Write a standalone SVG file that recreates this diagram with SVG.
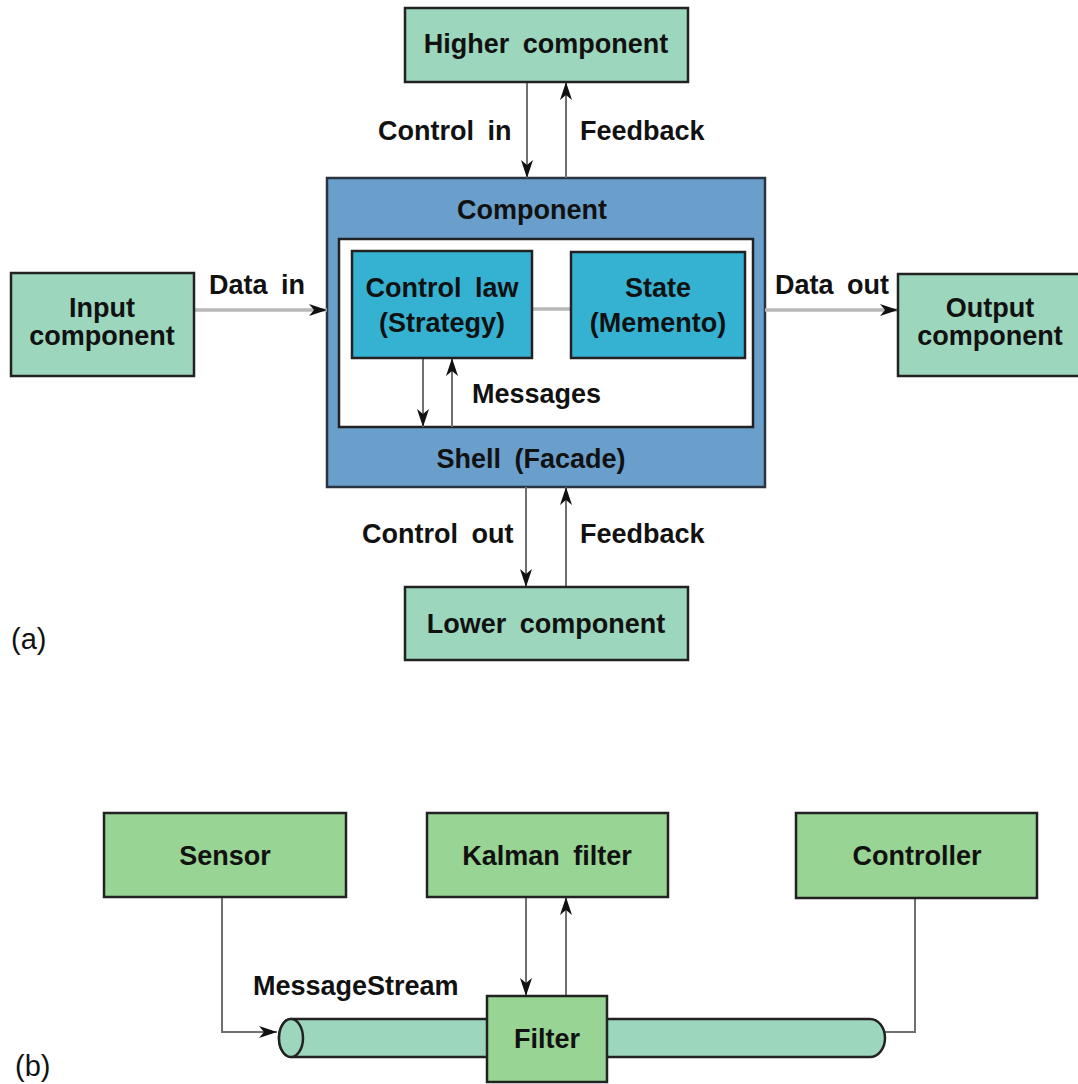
<svg xmlns="http://www.w3.org/2000/svg" width="1078" height="1084" viewBox="0 0 1078 1084">
<style>
.t{font-family:"Liberation Sans",Arial,sans-serif;font-weight:bold;font-size:27px;fill:#111;word-spacing:6px}
.c{text-anchor:middle}
.lbl{font-family:"Liberation Sans",Arial,sans-serif;font-size:29px;fill:#111}
.teal{fill:#9cd6bc;stroke:#222;stroke-width:2.5}
.green{fill:#98d493;stroke:#222;stroke-width:2.5}
.cyan{fill:#35b2d1;stroke:#222;stroke-width:2.5}
.conn{fill:none;stroke:#707070;stroke-width:2}
.data{fill:none;stroke:#b8b8b8;stroke-width:3.5}
</style>
<defs>
<marker id="ah" viewBox="0 0 18 12" refX="18" refY="6" markerWidth="18" markerHeight="12" markerUnits="userSpaceOnUse" orient="auto">
<path d="M0,0 L18,6 L0,12 L5,6 Z" fill="#111"/>
</marker>
</defs>
<rect width="1078" height="1084" fill="#fff"/>

<g id="component">
<rect x="327" y="178" width="438" height="309" fill="#6a9fcb" stroke="#2a3340" stroke-width="2.5"/>
<text class="t c" x="532" y="219">Component</text>
<text class="t c" x="531" y="468">Shell (Facade)</text>
</g>
<g id="shell-inner">
<rect x="339" y="239" width="414" height="188" fill="#fff" stroke="#222" stroke-width="2.5"/>
</g>

<g id="connectors">
<line class="conn" x1="527" y1="82" x2="527" y2="178" marker-end="url(#ah)"/>
<line class="conn" x1="566" y1="178" x2="566" y2="82" marker-end="url(#ah)"/>
<line class="conn" x1="526" y1="487" x2="526" y2="587" marker-end="url(#ah)"/>
<line class="conn" x1="566" y1="587" x2="566" y2="487" marker-end="url(#ah)"/>
<line class="data" x1="194" y1="310" x2="327" y2="310" marker-end="url(#ah)"/>
<line class="data" x1="765" y1="310" x2="898" y2="310" marker-end="url(#ah)"/>
<line class="data" x1="532" y1="309" x2="571" y2="309"/>
<line class="conn" x1="423" y1="358" x2="423" y2="427" marker-end="url(#ah)"/>
<line class="conn" x1="452" y1="427" x2="452" y2="358" marker-end="url(#ah)"/>
<polyline class="conn" points="222,897 222,1032 277,1032" marker-end="url(#ah)"/>
<line class="conn" x1="526" y1="897" x2="526" y2="996" marker-end="url(#ah)"/>
<line class="conn" x1="566" y1="996" x2="566" y2="897" marker-end="url(#ah)"/>
<polyline class="conn" points="915,898 915,1032 885,1032"/>
</g>

<g id="higher">
<rect class="teal" x="405" y="8" width="283" height="74"/>
<text class="t c" x="546" y="53">Higher component</text>
</g>
<text class="t" x="378" y="140">Control in</text>
<text class="t" x="580" y="140">Feedback</text>

<g id="input">
<rect class="teal" x="11" y="273" width="183" height="103"/>
<text class="t c" x="102" y="317">Input</text>
<text class="t c" x="102" y="345">component</text>
</g>
<text class="t" x="209" y="294">Data in</text>

<g id="output">
<rect class="teal" x="898" y="274" width="182" height="102"/>
<text class="t c" x="990" y="317">Output</text>
<text class="t c" x="990" y="345">component</text>
</g>
<text class="t" x="775" y="294">Data out</text>

<g id="control-law">
<rect class="cyan" x="352" y="251" width="180" height="107"/>
<text class="t c" x="442" y="297">Control law</text>
<text class="t c" x="442" y="332">(Strategy)</text>
</g>
<g id="state">
<rect class="cyan" x="571" y="252" width="174" height="106"/>
<text class="t c" x="658" y="297">State</text>
<text class="t c" x="658" y="332">(Memento)</text>
</g>
<text class="t" x="472" y="403">Messages</text>

<g id="lower">
<rect class="teal" x="405" y="587" width="283" height="73"/>
<text class="t c" x="546" y="633">Lower component</text>
</g>
<text class="t" x="362" y="543">Control out</text>
<text class="t" x="580" y="543">Feedback</text>

<text class="lbl" x="11" y="649">(a)</text>

<g id="sensor">
<rect class="green" x="104" y="813" width="242" height="84"/>
<text class="t c" x="225" y="865">Sensor</text>
</g>
<g id="kalman">
<rect class="green" x="427" y="813" width="241" height="84"/>
<text class="t c" x="547" y="865">Kalman filter</text>
</g>
<g id="controller">
<rect class="green" x="796" y="813" width="241" height="85"/>
<text class="t c" x="917" y="865">Controller</text>
</g>

<g id="messagestream">
<path d="M291,1019 L870,1019 A15,19 0 0 1 870,1057 L291,1057 A12,19 0 0 1 291,1019 Z" fill="#9cd6bc" stroke="#222" stroke-width="2.5"/>
<ellipse cx="291" cy="1038" rx="12" ry="19" fill="#9cd6bc" stroke="#222" stroke-width="2.5"/>
<text class="t" x="253" y="995">MessageStream</text>
</g>
<g id="filter">
<rect class="green" x="487" y="996" width="120" height="86"/>
<text class="t c" x="547" y="1048">Filter</text>
</g>

<text class="lbl" x="15" y="1076">(b)</text>
</svg>
